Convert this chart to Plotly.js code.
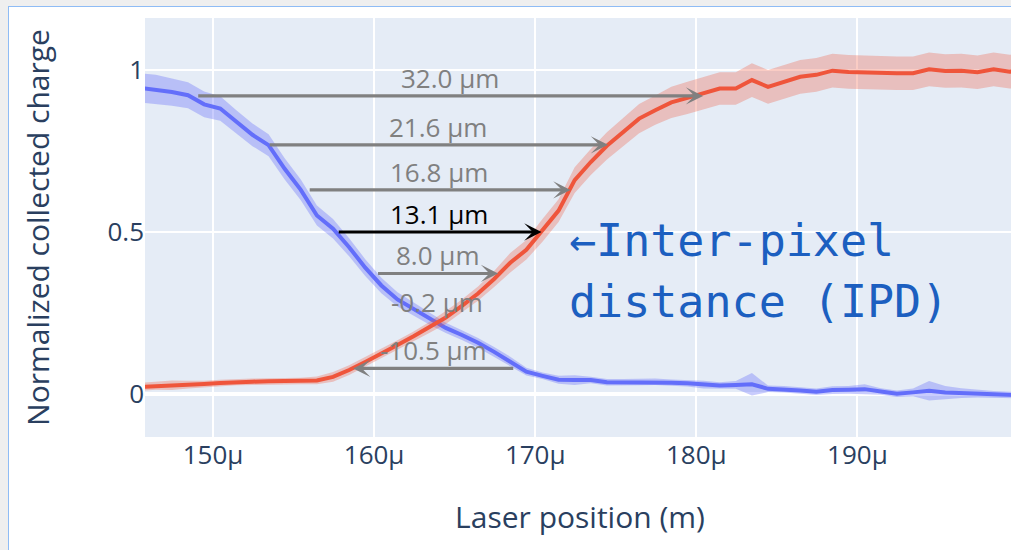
<!DOCTYPE html>
<html><head><meta charset="utf-8">
<script src="https://cdn.plot.ly/plotly-3.0.1.min.js"></script>
<style>
html,body{margin:0;padding:0;background:#efefef;overflow:hidden;width:1011px;height:550px;}
#frame{position:absolute;left:8px;top:6px;width:1100px;height:600px;background:#fff;border-left:1px solid #8fbcf5;border-top:1px solid #8fbcf5;overflow:hidden;}
#chart{position:absolute;left:0;top:0;}
</style></head><body>
<div id="frame"><div id="chart"></div></div>
<script>
// Laser positions in micrometres
const positionUm = [145.45,146.45,147.45,148.45,149.45,150.45,151.45,152.45,153.45,154.45,
  155.45,156.45,157.45,158.45,159.45,160.45,161.45,162.45,163.45,164.45,
  165.45,166.45,167.45,168.45,169.45,170.45,171.45,172.45,173.45,174.45,
  175.45,176.45,177.45,178.45,179.45,180.45,181.45,182.45,183.45,184.45,
  185.45,186.45,187.45,188.45,189.45,190.45,191.45,192.45,193.45,194.45,
  195.45,196.45,197.45,198.45,199.45,200.45];

// Left pixel (blue) normalized charge
const leftMean = [0.945,0.94,0.932,0.922,0.894,0.881,0.84,0.80,0.768,0.695,
  0.63,0.551,0.51,0.453,0.39,0.335,0.292,0.262,0.232,0.204,
  0.182,0.158,0.13,0.10,0.069,0.056,0.044,0.043,0.043,0.036,
  0.036,0.037,0.038,0.035,0.033,0.029,0.026,0.028,0.03,0.016,
  0.015,0.011,0.007,0.012,0.013,0.015,0.008,0.001,0.005,0.01,
  0.005,0.003,0.001,-0.001,-0.003,-0.004];
const leftStd = [0.045,0.045,0.042,0.04,0.04,0.038,0.036,0.035,0.034,0.033,
  0.032,0.031,0.03,0.028,0.026,0.024,0.022,0.02,0.018,0.016,
  0.015,0.015,0.015,0.015,0.012,0.01,0.012,0.015,0.01,0.01,
  0.01,0.01,0.01,0.01,0.01,0.012,0.01,0.012,0.035,0.01,
  0.01,0.01,0.01,0.012,0.012,0.015,0.01,0.01,0.012,0.03,
  0.02,0.015,0.012,0.01,0.01,0.01];

// Right pixel (red) normalized charge
const rightMean = [0.022,0.025,0.027,0.029,0.031,0.034,0.037,0.038,0.039,0.04,
  0.04,0.042,0.053,0.074,0.099,0.124,0.151,0.178,0.206,0.236,
  0.272,0.31,0.355,0.405,0.445,0.505,0.566,0.66,0.716,0.766,
  0.808,0.85,0.876,0.90,0.914,0.928,0.943,0.943,0.969,0.948,
  0.964,0.979,0.985,0.998,0.994,0.992,0.991,0.99,0.99,1.002,
  0.997,0.998,0.993,1.002,0.995,0.997];
const rightStd = [0.012,0.012,0.015,0.012,0.01,0.01,0.01,0.01,0.01,0.01,
  0.01,0.012,0.015,0.015,0.015,0.015,0.015,0.015,0.017,0.02,
  0.02,0.022,0.025,0.03,0.03,0.035,0.035,0.04,0.04,0.042,
  0.045,0.045,0.045,0.048,0.05,0.05,0.05,0.05,0.052,0.052,
  0.052,0.052,0.052,0.052,0.052,0.052,0.052,0.052,0.052,0.052,
  0.052,0.052,0.052,0.052,0.052,0.052];

// Inter-pixel distance markers
const ipdLabels = ['32.0 μm','21.6 μm','16.8 μm','13.1 μm','8.0 μm','-0.2 μm','-10.5 μm'];
const ipdLevel = [0.92,0.769,0.63,0.5,0.372,0.228,0.079];
const ipdFromUm = [148.99,153.43,155.91,157.71,160.15,164.0,168.73];
const ipdToUm = [180.42,174.52,172.19,170.39,167.70,163.8,158.70];

const xRangeUm = [145.78,199.78];
const yRange = [-0.1327,1.1605];

const um = v => v*1e-6;
const X = positionUm.map(um);

function band(mean, std, color){
  const up = mean.map((m,i)=>m+std[i]);
  const lo = mean.map((m,i)=>m-std[i]);
  return {x: X.concat(X.slice().reverse()), y: up.concat(lo.slice().reverse()),
    type:'scatter', mode:'lines', fill:'toself', fillcolor:color,
    line:{width:0}, hoverinfo:'skip', showlegend:false};
}
const traces = [
  band(leftMean, leftStd, 'rgba(99,110,250,0.35)'),
  {x:X, y:leftMean, type:'scatter', mode:'lines', line:{color:'#636efa', width:4}, showlegend:false},
  band(rightMean, rightStd, 'rgba(239,85,59,0.3)'),
  {x:X, y:rightMean, type:'scatter', mode:'lines', line:{color:'#ef553b', width:4}, showlegend:false}
];

const annotations = [];
ipdLabels.forEach((lab,i)=>{
  const col = ipdLevel[i] === 0.5 ? 'black' : 'gray';
  if (Math.abs(ipdToUm[i]-ipdFromUm[i]) > 1) {
    annotations.push({xref:'x', yref:'y', axref:'x', ayref:'y',
      x:um(ipdToUm[i]), y:ipdLevel[i], ax:um(ipdFromUm[i]), ay:ipdLevel[i],
      text:'', showarrow:true, arrowhead:3, arrowsize:0.9, arrowwidth:3.2,
      arrowcolor:col, standoff:0, startstandoff:0});
  }
  annotations.push({xref:'x', yref:'y', x:um((ipdToUm[i]+ipdFromUm[i])/2), y:ipdLevel[i],
    text:lab, showarrow:false, yanchor:'bottom', xanchor:'center', yshift:-2,
    font:{size:26, color:col}});
});
annotations.push({xref:'x', yref:'y', x:um(172.0), y:0.475, xanchor:'left', yanchor:'middle',
  text:'←Inter-pixel', showarrow:false, font:{family:'DejaVu Sans Mono', size:45, color:'#1c5fc0'}});
annotations.push({xref:'x', yref:'y', x:um(172.0), y:0.285, xanchor:'left', yanchor:'middle',
  text:'distance (IPD)', showarrow:false, font:{family:'DejaVu Sans Mono', size:45, color:'#1c5fc0'}});

const layout = {
  width:1016, height:543,
  margin:{l:136, r:10, t:11, b:113, pad:0},
  paper_bgcolor:'#ffffff', plot_bgcolor:'#e5ecf6',
  font:{family:'"Open Sans", verdana, arial, sans-serif', color:'#2a3f5f', size:26},
  showlegend:false,
  xaxis:{range:xRangeUm.map(um), tick0:0, dtick:10e-6, gridcolor:'white', gridwidth:2,
    zeroline:false, ticks:'', tickfont:{size:26},
    title:{text:'Laser position (m)', font:{size:30}, standoff:35}},
  yaxis:{range:yRange, tick0:0, dtick:0.5, gridcolor:'white', gridwidth:2,
    zeroline:true, zerolinecolor:'white', zerolinewidth:3.5, ticks:'', tickfont:{size:26},
    title:{text:'Normalized collected charge', font:{size:30}, standoff:48}},
  annotations: annotations
};
Plotly.newPlot('chart', traces, layout, {displayModeBar:false, staticPlot:true});
</script>
</body></html>
